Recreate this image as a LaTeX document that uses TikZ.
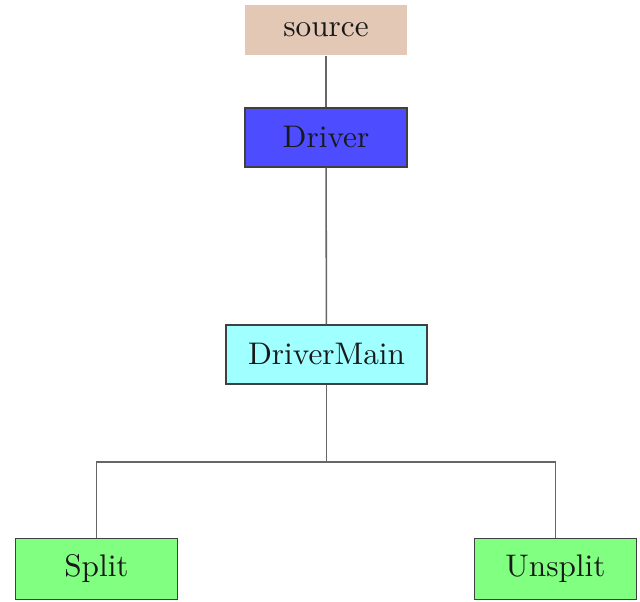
\documentclass[tikz,border=0pt]{standalone}
\usetikzlibrary{positioning}
\definecolor{srctan}{HTML}{E3C9B5}
\definecolor{drvblue}{HTML}{4D4DFF}
\definecolor{maincyan}{HTML}{A0FFFF}
\definecolor{leafgreen}{HTML}{80FF80}
\tikzset{
  dgbox/.style={draw=black!75, line width=0.4pt, inner sep=2pt,
                minimum width=51.8pt, minimum height=18.9pt, text=black!90},
  dgline/.style={draw=black!60, line width=0.5pt},
}
\begin{document}
\begin{tikzpicture}[x=0.32pt, y=-0.32pt]
  \useasboundingbox (0,0) rectangle (640,602);

  \node[dgbox, draw=none, fill=srctan, minimum height=16pt] (src) at (326,30) {source};
  \node[dgbox, fill=drvblue] (drv) at (326,137.5) {Driver};
  \node[dgbox, fill=maincyan, minimum width=64.3pt] (drvmain) at (326.5,354.5) {DriverMain};
  \node[dgbox, fill=leafgreen, minimum height=19.5pt] (split) at (96.5,569) {Split};
  \node[dgbox, fill=leafgreen, minimum height=19.5pt] (unsplit) at (555.5,569) {Unsplit};

  \coordinate (fork) at (326.5,462);

  \draw[dgline] (src) -- (drv);
  \draw[dgline] (drv) -- (drvmain);
  \draw[dgline] (drvmain) -- (fork);
  \draw[dgline] (fork) -| (split);
  \draw[dgline] (fork) -| (unsplit);
\end{tikzpicture}
\end{document}
